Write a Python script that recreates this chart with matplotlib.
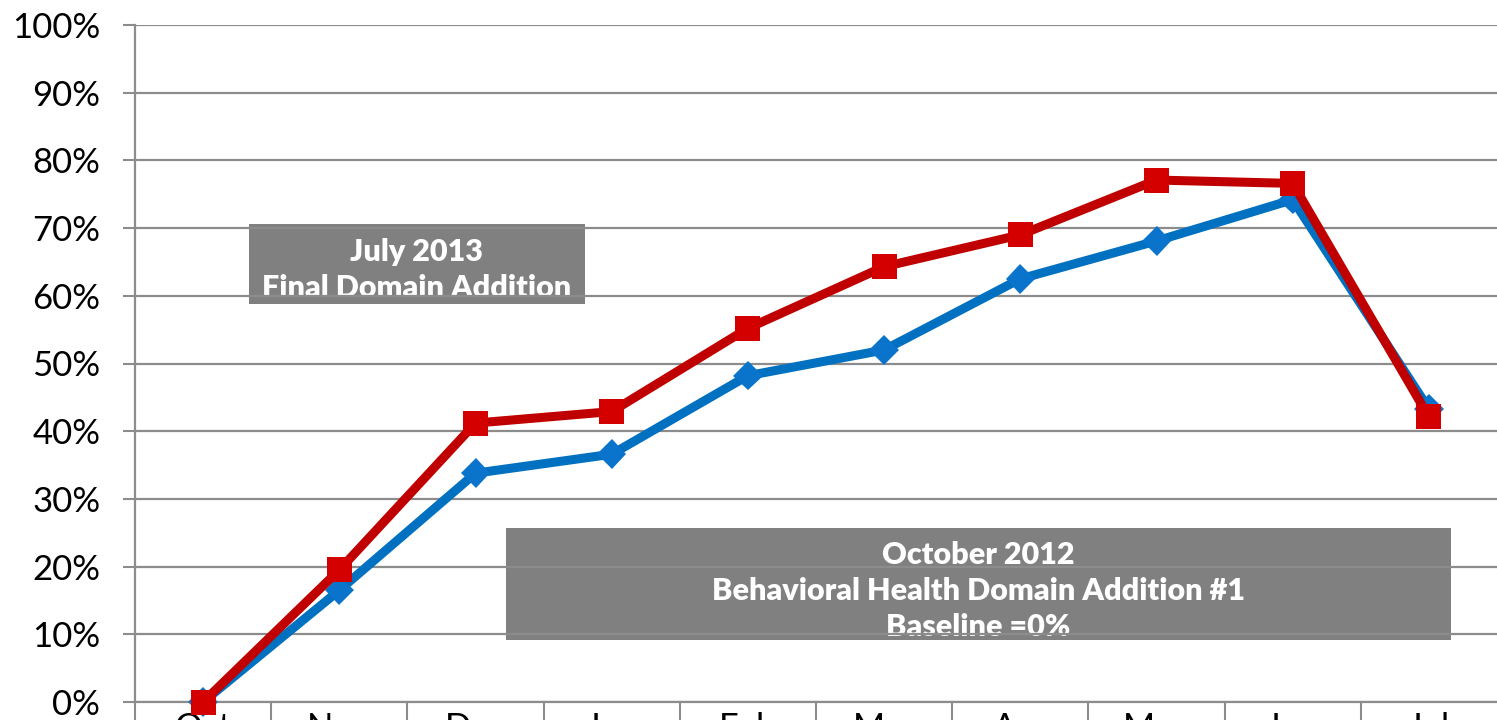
import numpy as np
import matplotlib.pyplot as plt
from matplotlib.patches import Rectangle
from matplotlib import patheffects as pe

months = ['Oct', 'Nov', 'Dec', 'Jan', 'Feb', 'Mar', 'Apr', 'May', 'Jun', 'Jul']
blue_vals = [0.0, 16.5, 33.8, 36.6, 48.2, 52.0, 62.5, 68.1, 74.2, 43.3]
red_vals = [0.0, 19.5, 41.2, 42.9, 55.2, 64.3, 69.0, 77.1, 76.6, 42.1]
y_ticks = list(range(0, 101, 10))

plt.rcParams['font.family'] = ['Lato', 'DejaVu Sans']

fig = plt.figure(figsize=(14.97, 7.2), dpi=100)
ax = fig.add_axes([135 / 1497, 1 - 702 / 720, 1 - 135 / 1497, (702 - 25) / 720])

x = np.arange(len(months))
grid_col = '#8c8c8c'

ax.set_xlim(-0.5, len(months) - 0.5)
ax.set_ylim(0, 100)
ax.set_yticks(y_ticks)
ax.set_yticklabels([f'{v}%' for v in y_ticks], fontsize=25)
ax.set_xticks(x - 0.5, minor=False)
ax.set_xticklabels([])
ax.set_xticks(x, minor=True)
ax.set_xticklabels(months, minor=True, fontsize=25)
ax.tick_params(axis='x', which='major', length=20, width=1.5, color=grid_col, direction='out')
ax.tick_params(axis='x', which='minor', length=0, pad=7)
ax.tick_params(axis='y', length=9, width=1.5, color=grid_col, pad=16)

ax.grid(axis='y', color=grid_col, linewidth=1.6)
ax.set_axisbelow(False)
for s in ['top', 'right']:
    ax.spines[s].set_visible(False)
for s in ['left', 'bottom']:
    ax.spines[s].set_color(grid_col)
    ax.spines[s].set_linewidth(1.6)

shadow = [pe.SimpleLineShadow(offset=(2.5, -2.5), alpha=0.3, shadow_color='black'), pe.Normal()]

# blue series: line, then markers with a soft shadow
ax.plot(x, blue_vals, color='#0070C0', linewidth=6.5, zorder=4, clip_on=False)
ax.plot(x, blue_vals, linestyle='none', marker='D', markersize=15,
        markerfacecolor='#0a74cc', markeredgewidth=0, zorder=4.1, path_effects=shadow,
        clip_on=False)
# red series on top
ax.plot(x, red_vals, color='#C00000', linewidth=6.5, zorder=5, clip_on=False)
ax.plot(x, red_vals, linestyle='none', marker='s', markersize=18,
        markerfacecolor='#D40000', markeredgewidth=0, zorder=5.1, path_effects=shadow,
        clip_on=False)


def label_box(x0, y0, x1, y1, lines, line_gap, first_y):
    # pixel coords from top-left -> figure fraction
    rect = Rectangle((x0 / 1497, 1 - y1 / 720), (x1 - x0) / 1497, (y1 - y0) / 720,
                     transform=fig.transFigure, facecolor='#808080', edgecolor='none',
                     zorder=1)
    ax.add_patch(rect)
    cx = (x0 + x1) / 2 / 1497
    for i, line in enumerate(lines):
        t = ax.text(cx, 1 - (first_y + i * line_gap) / 720, line, transform=fig.transFigure,
                    ha='center', va='center', color='white', fontsize=22,
                    fontweight='heavy', zorder=1.2)
        t.set_clip_path(rect)


label_box(249, 224, 585, 304, ['July 2013', 'Final Domain Addition'], 36, 252)
label_box(506, 528, 1451, 640,
          ['October 2012', 'Behavioral Health Domain Addition #1', 'Baseline =0%'], 36, 555)

fig.savefig('out.png', dpi=100)
